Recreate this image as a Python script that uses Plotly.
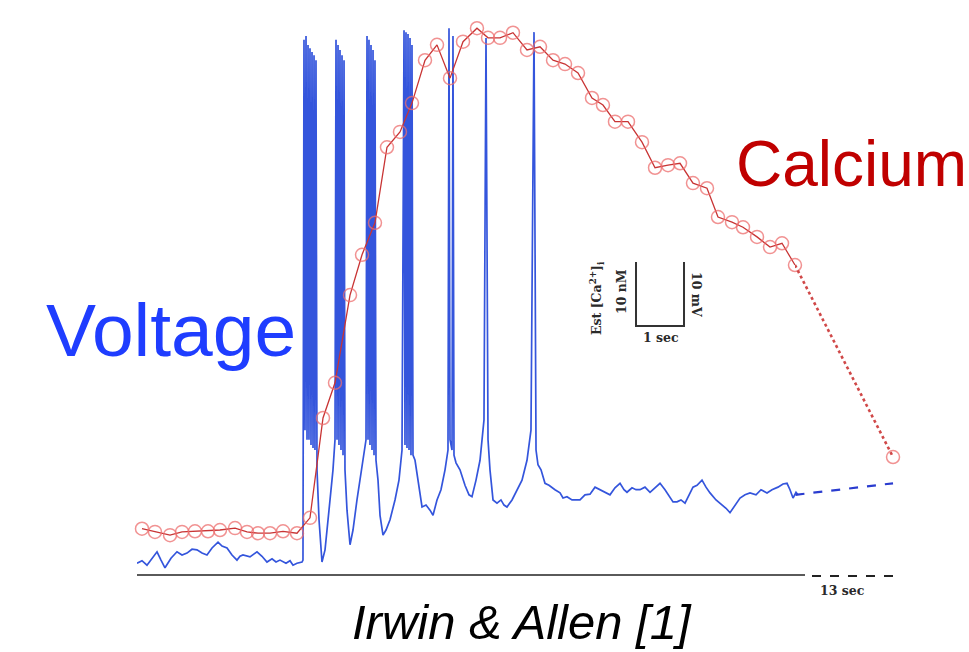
import plotly.graph_objects as go

W, H = 969, 652

# ---------------- data ----------------
# membrane voltage trace (time in s, voltage in mV)
volt_t = [0.000, 0.104, 0.208, 0.313, 0.417, 0.500, 0.583, 0.708, 0.833, 0.938, 1.042, 1.146, 1.250, 1.354,
          1.458, 1.563, 1.688, 1.771, 1.875, 1.979, 2.083, 2.146, 2.208, 2.354, 2.500, 2.604, 2.708, 2.813,
          2.896, 2.979, 3.104, 3.188, 3.250, 3.333, 3.438,
          3.458, 3.479, 3.500, 3.521, 3.542, 3.563, 3.583, 3.604, 3.625, 3.646, 3.667, 3.688, 3.708, 3.729,
          3.750, 3.792, 3.854, 3.917, 4.000, 4.083, 4.125, 4.146, 4.167, 4.188, 4.208, 4.229, 4.250, 4.271,
          4.292, 4.313, 4.333, 4.375, 4.438, 4.500, 4.583, 4.688, 4.771, 4.792, 4.813, 4.833, 4.854, 4.875,
          4.896, 4.917, 4.938, 4.958, 4.979, 5.021, 5.063, 5.125, 5.188, 5.271, 5.375, 5.458, 5.521, 5.563,
          5.583, 5.604, 5.625, 5.646, 5.667, 5.688, 5.708, 5.729, 5.750, 5.792, 5.875, 5.938, 6.021, 6.104,
          6.167, 6.250, 6.333, 6.417, 6.479, 6.500, 6.521, 6.563, 6.583, 6.604, 6.646, 6.729, 6.833, 6.917,
          6.979, 7.063, 7.146, 7.229, 7.271, 7.313, 7.354, 7.417, 7.500, 7.583, 7.646, 7.708, 7.813, 7.917,
          8.021, 8.125, 8.208, 8.271, 8.313, 8.354, 8.417, 8.500, 8.583, 8.708, 8.813, 8.875, 8.958, 9.063,
          9.229, 9.333, 9.438, 9.542, 9.646, 9.750, 9.854, 9.958, 10.063, 10.146, 10.208, 10.313, 10.396,
          10.479, 10.583, 10.688, 10.792, 10.896, 11.000, 11.104, 11.167, 11.250, 11.333, 11.417, 11.521,
          11.583, 11.667, 11.771, 11.854, 11.938, 12.063, 12.188, 12.271, 12.354, 12.458, 12.563, 12.667,
          12.771, 12.896, 13.000, 13.125, 13.229, 13.354, 13.458, 13.542, 13.604, 13.667, 13.729, 13.771]
volt_mv = [-61.3, -60.9, -61.6, -60.5, -59.5, -60.8, -62.0, -60.5, -59.5, -60.0, -59.7, -59.1, -59.2, -59.7,
           -60.0, -58.9, -58.0, -58.6, -58.9, -60.0, -60.8, -60.2, -60.0, -60.3, -59.5, -60.2, -61.1, -60.6,
           -61.1, -60.8, -61.3, -60.9, -61.6, -61.3, -61.1,
           -60.8, 20.5, -40.5, 21.1, -42.0, 19.7, -42.0, 19.2, -42.8, 18.6, -43.3, 18.1, -43.6, 17.3,
           -46.7, -54.5, -61.1, -59.2, -53.0, -46.7, -42.0, 20.5, -42.0, 19.7, -42.8, 18.9, -43.6, 18.1,
           -44.4, 17.3, -46.7, -53.0, -58.4, -56.1, -51.4, -45.9, -42.0, 21.1, -42.0, 20.5, -42.8, 19.7,
           -43.6, 18.9, -44.4, 17.3, -45.2, -48.3, -53.8, -56.9, -56.1, -54.5, -51.4, -48.3, -43.6, 22.0,
           -42.8, 21.7, -43.3, 21.4, -43.6, 20.8, -44.4, 19.7, -44.4, -45.2, -49.8, -52.5, -52.2, -53.0,
           -53.8, -51.4, -49.8, -46.7, -43.6, 22.3, -42.0, -43.6, 21.1, -44.4, -45.6, -46.7, -49.1, -50.6,
           -50.9, -48.3, -45.2, -38.9, 20.8, -42.0, -46.7, -51.4, -51.9, -51.4, -52.2, -52.5, -51.4, -49.8,
           -48.3, -45.2, -40.5, 21.7, -43.6, -45.9, -46.7, -48.8, -49.1, -49.8, -50.3, -51.1, -50.9, -51.4,
           -51.4, -50.6, -50.5, -49.4, -49.8, -50.3, -50.6, -49.5, -48.8, -49.8, -50.2, -49.5, -49.8,
           -49.8, -49.4, -50.2, -49.5, -48.8, -49.8, -50.9, -51.7, -51.7, -51.4, -51.9, -50.3,
           -49.4, -49.1, -48.3, -49.4, -50.3, -51.4, -52.2, -52.7, -53.4, -52.2, -51.1, -50.6,
           -50.3, -50.6, -49.8, -50.3, -49.8, -49.4, -48.9, -48.8, -49.8, -51.1, -50.2, -50.6]

# estimated calcium (time in s, [Ca2+]i in nM)
ca_t = [0.104, 0.375, 0.688, 0.938, 1.208, 1.479, 1.729, 2.042, 2.292, 2.521, 2.771, 3.042, 3.333, 3.604,
        3.875, 4.125, 4.438, 4.688, 4.958, 5.208, 5.479, 5.729, 6.000, 6.250, 6.521, 6.792, 7.083, 7.313,
        7.563, 7.833, 8.125, 8.396, 8.667, 8.917, 9.188, 9.479, 9.708, 9.958, 10.229, 10.521, 10.792,
        11.063, 11.313, 11.583, 11.875, 12.104, 12.396, 12.625, 12.917, 13.188, 13.438, 13.708]
ca_nm = [50.2, 49.7, 49.2, 49.7, 49.8, 49.8, 50.0, 50.3, 49.7, 49.5, 49.5, 49.8, 49.5, 51.9,
         67.5, 73.0, 86.7, 93.0, 98.0, 109.8, 112.2, 116.7, 123.4, 125.8, 120.6, 126.3, 128.4, 126.9,
         126.9, 127.7, 125.0, 125.5, 123.4, 122.8, 121.4, 117.5, 116.4, 113.8, 113.8, 110.6, 106.6,
         107.0, 107.3, 104.2, 103.4, 98.9, 98.1, 97.3, 95.8, 94.2, 94.8, 91.4]

# after the 13 s break
gap_s = 13.0
gap_volt_t = [13.771, 13.708 + gap_s]
gap_volt_mv = [-50.6, -48.8]
gap_ca_t = [13.708, 13.708 + gap_s]
gap_ca_nm = [91.4, 61.4]

# scale bars: 1 sec, 10 mV (and 10 nM on the calcium axis)
bar_t0, bar_v0 = 10.396, -24.22
bar_sec, bar_mv = 1.0, 10.0

# ---------------- figure ----------------
def px(x):
    return x / W


def py(y):
    return 1 - y / H


VOLT_RANGE = [-75.16, 26.72]
CA_RANGE = [30.94, 132.81]
CA_MARK = "rgba(236,110,110,0.75)"

fig = go.Figure()

fig.add_trace(go.Scatter(x=volt_t, y=volt_mv, mode="lines", xaxis="x", yaxis="y",
                         line=dict(color="#3455dc", width=1.7), hoverinfo="skip"))
fig.add_trace(go.Scatter(x=[bar_t0, bar_t0, bar_t0 + bar_sec, bar_t0 + bar_sec],
                         y=[bar_v0 + bar_mv, bar_v0, bar_v0, bar_v0 + bar_mv],
                         mode="lines", xaxis="x", yaxis="y",
                         line=dict(color="#333333", width=2), hoverinfo="skip"))
fig.add_trace(go.Scatter(x=ca_t, y=ca_nm, mode="lines+markers", xaxis="x", yaxis="y2",
                         line=dict(color="#c83434", width=1.3),
                         marker=dict(symbol="circle-open", size=13, color=CA_MARK,
                                     line=dict(width=1.5, color=CA_MARK)),
                         cliponaxis=False, hoverinfo="skip"))
fig.add_trace(go.Scatter(x=gap_volt_t, y=gap_volt_mv, mode="lines", xaxis="x2", yaxis="y3",
                         line=dict(color="#2a3ccf", width=2.2, dash="dash"), hoverinfo="skip"))
fig.add_trace(go.Scatter(x=gap_ca_t, y=gap_ca_nm, mode="lines", xaxis="x2", yaxis="y4",
                         line=dict(color="#d04848", width=2.6, dash="dot"), hoverinfo="skip"))
fig.add_trace(go.Scatter(x=gap_ca_t[-1:], y=gap_ca_nm[-1:], mode="markers", xaxis="x2", yaxis="y4",
                         marker=dict(symbol="circle-open", size=13, color=CA_MARK,
                                     line=dict(width=1.5, color=CA_MARK)),
                         cliponaxis=False, hoverinfo="skip"))

ax = dict(visible=False, fixedrange=True, showgrid=False, zeroline=False)
fig.update_layout(
    width=W, height=H, margin=dict(l=0, r=0, t=0, b=0),
    paper_bgcolor="white", plot_bgcolor="rgba(0,0,0,0)", showlegend=False,
    xaxis=dict(ax, domain=[px(137), px(800)], range=[0, 13.8125], anchor="y"),
    xaxis2=dict(ax, domain=[px(795), px(899)], range=[13.708, 27.5], anchor="y3"),
    yaxis=dict(ax, domain=[0, 1], range=VOLT_RANGE, anchor="x"),
    yaxis2=dict(ax, range=CA_RANGE, overlaying="y", anchor="x"),
    yaxis3=dict(ax, domain=[0, 1], range=VOLT_RANGE, anchor="x2"),
    yaxis4=dict(ax, range=CA_RANGE, overlaying="y3", anchor="x2"),
)

# time axis line and break
fig.add_shape(type="line", xref="paper", yref="paper", x0=px(137), x1=px(805), y0=py(575), y1=py(575),
              line=dict(color="#5a5a5a", width=2))
fig.add_shape(type="line", xref="paper", yref="paper", x0=px(812), x1=px(895), y0=py(576), y1=py(576),
              line=dict(color="#222222", width=2, dash="dash"))

serif = dict(family="DejaVu Serif", size=12.5, color="#2a2a2a")
ann = [
    dict(text="<b>13 sec</b>", x=px(842), y=py(590), font=serif),
    dict(text="<b>1 sec</b>", x=px(661), y=py(337), font=serif),
    dict(text="<b>Est [Ca<sup>2+</sup>]<sub>i</sub></b>", x=px(597), y=py(298), textangle=-90, font=serif),
    dict(text="<b>10 nM</b>", x=px(621), y=py(292), textangle=-90, font=serif),
    dict(text="<b>10 mV</b>", x=px(697), y=py(294), textangle=90, font=serif),
    dict(text="Voltage", x=px(171), y=py(330),
         font=dict(family="Liberation Sans, Arial", size=75, color="#1f3dff")),
    dict(text="Calcium", x=px(851), y=py(164),
         font=dict(family="Liberation Sans, Arial", size=64, color="#c00000")),
    dict(text="<i>Irwin &amp; Allen [1]</i>", x=px(522), y=py(622),
         font=dict(family="Liberation Sans, Arial", size=49, color="#000000")),
]
for a in ann:
    fig.add_annotation(xref="paper", yref="paper", showarrow=False, xanchor="center", yanchor="middle", **a)

fig.write_html("out.html", config={"displayModeBar": False},
               post_script="document.body.style.margin='0';document.body.style.padding='0';")
